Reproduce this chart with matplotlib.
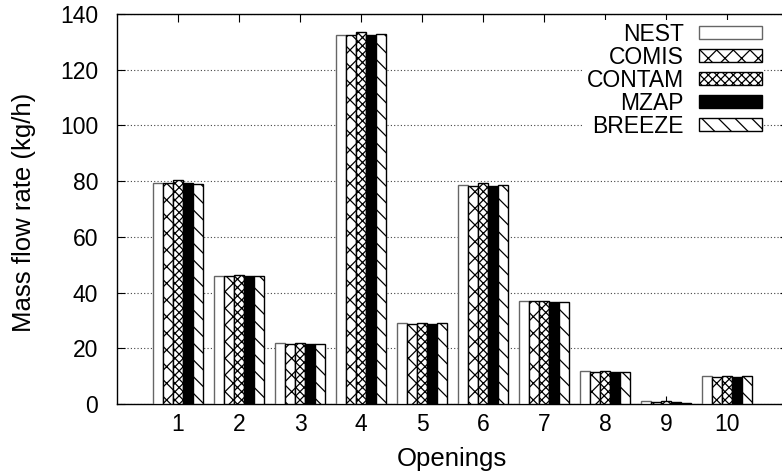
import matplotlib
matplotlib.use("Agg")
import matplotlib.pyplot as plt
import numpy as np

plt.rcParams['font.family'] = ['Liberation Sans', 'DejaVu Sans']
plt.rcParams['hatch.linewidth'] = 0.9

openings = ['1', '2', '3', '4', '5', '6', '7', '8', '9', '10']
series = ['NEST', 'COMIS', 'CONTAM', 'MZAP', 'BREEZE']
nest   = [79.5, 46.0, 22.0, 132.5, 29.0, 78.5, 37.0, 12.0, 1.0, 10.0]
comis  = [79.3, 46.0, 21.6, 132.5, 28.7, 78.3, 37.0, 11.6, 0.8, 9.8]
contam = [80.5, 46.2, 22.0, 133.5, 28.9, 79.5, 37.0, 12.0, 0.9, 10.0]
mzap   = [79.5, 45.8, 21.5, 132.5, 28.6, 78.3, 36.7, 11.6, 0.8, 9.8]
breeze = [79.0, 46.0, 21.5, 133.0, 29.0, 78.5, 36.6, 11.6, 0.5, 10.0]
values = [nest, comis, contam, mzap, breeze]

styles = [
    dict(facecolor='white', hatch=None, edgecolor='#666666'),
    dict(facecolor='white', hatch='xx', edgecolor='black'),
    dict(facecolor='white', hatch='xxxx', edgecolor='black'),
    dict(facecolor='black', hatch=None, edgecolor='black'),
    dict(facecolor='white', hatch='\\\\', edgecolor='black'),
]

W, H = 782, 476
L, R, T, B = 117, 788, 14, 404
fig = plt.figure(figsize=(W/100, H/100), dpi=100)
ax = fig.add_axes([L/W, 1-B/H, (R-L)/W, (B-T)/H])

x = np.arange(1, len(openings)+1)
w = 0.167
for i, (name, vals, st) in enumerate(zip(series, values, styles)):
    ax.bar(x + (i-2)*w, vals, width=w, label=name, linewidth=1.0, zorder=3, **st)

ax.set_xlim(0, 11)
ax.set_ylim(0, 140)
ax.set_xticks(x)
ax.set_xticklabels(openings)
ax.set_yticks(np.arange(0, 141, 20))
ax.yaxis.grid(True, linestyle=(0, (1, 2)), color='#444444', linewidth=0.8, zorder=0)
ax.tick_params(direction='in', length=6, top=True, right=True, labelsize=16.5)
ax.tick_params(axis='x', pad=6.5)
ax.tick_params(axis='y', pad=13.5)
for s in ax.spines.values():
    s.set_linewidth(1.0)
ax.set_xlabel('Openings', fontsize=18.5, va='top')
ax.xaxis.set_label_coords(0.499, -0.110)
ax.set_ylabel('Mass flow rate (kg/h)', fontsize=18.5)
ax.yaxis.set_label_coords(-0.1207, 0.492)

leg = ax.legend(loc='upper right', markerfirst=False, frameon=True, framealpha=1,
                edgecolor='none', fontsize=16.5, handlelength=2.75, handleheight=0.52,
                labelspacing=0.0, borderpad=0.1, handletextpad=0.65,
                bbox_to_anchor=(775.5/W, 1-9/H), bbox_transform=fig.transFigure)
for t in leg.get_texts():
    t.set_ha('right')
leg.get_frame().set_facecolor('white')

fig.savefig('out.png', dpi=100)
